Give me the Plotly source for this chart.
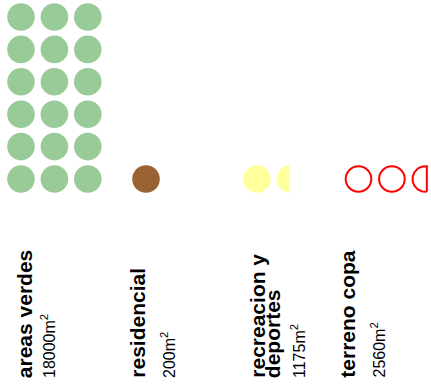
import numpy as np
import plotly.graph_objects as go

# ---- data ----
categories = ["areas verdes", "residencial", "recreacion y<br>deportes", "terreno copa"]
area_labels = ["18000m<sup>2</sup>", "200m<sup>2</sup>", "1175m<sup>2</sup>", "2560m<sup>2</sup>"]
icon_counts = [18, 1, 1.46, 2.56]          # circles drawn per category (full + partial)
fill_colors = ["#98CB98", "#9A6232", "#FFFF9C", "rgba(0,0,0,0)"]
line_colors = [None, None, None, "#FF0000"]

# ---- layout constants (pixels) ----
W, H = 431, 384
group_x0 = [21, 146, 257, 358.5]
label_x = [((24.2,), 48), ((136.7,), 168), ((256.7, 272.7), 298), ((346.7,), 378)]
col_step, row_step = 33.4, 32.4
base_y = 179
diam = 27.6
per_row = 3

fig = go.Figure()

def partial_circle(cx, cy, r, frac, n=80):
    cut = cx - r + 2 * r * frac
    t0 = np.arccos(np.clip((cut - cx) / r, -1, 1))
    t = np.linspace(t0, 2 * np.pi - t0, n)
    xs = cx + r * np.cos(t)
    ys = cy + r * np.sin(t)
    xs = np.append(xs, xs[0])
    ys = np.append(ys, ys[0])
    return xs, ys

for gi, cnt in enumerate(icon_counts):
    n_full = int(np.floor(cnt))
    frac = cnt - n_full
    xs, ys = [], []
    for k in range(n_full):
        xs.append(group_x0[gi] + (k % per_row) * col_step)
        ys.append(base_y - (k // per_row) * row_step)
    outline = line_colors[gi] is not None
    if outline:
        marker = dict(size=diam - 2, symbol="circle-open",
                      color=line_colors[gi], line=dict(width=2, color=line_colors[gi]))
    else:
        marker = dict(size=diam, color=fill_colors[gi], line=dict(width=0))
    fig.add_trace(go.Scatter(x=xs, y=ys, mode="markers", marker=marker,
                             hoverinfo="skip", showlegend=False))
    if frac > 0.01:
        k = n_full
        cx = group_x0[gi] + (k % per_row) * col_step
        cy = base_y - (k // per_row) * row_step
        if outline:
            px, py = partial_circle(cx, cy, (diam - 2) / 2, frac)
            fig.add_trace(go.Scatter(x=px, y=py, mode="lines",
                                     line=dict(color=line_colors[gi], width=2),
                                     hoverinfo="skip", showlegend=False))
        else:
            px, py = partial_circle(cx, cy, diam / 2, frac)
            fig.add_trace(go.Scatter(x=px, y=py, mode="lines", fill="toself",
                                     fillcolor=fill_colors[gi], line=dict(width=0),
                                     hoverinfo="skip", showlegend=False))

annotations = []
for gi, name in enumerate(categories):
    name_xs, val_x = label_x[gi]
    for li, line in enumerate(name.split("<br>")):
        annotations.append(dict(x=name_xs[li], y=379, xref="x", yref="y", text="<b>%s</b>" % line,
                                textangle=-90, showarrow=False, xanchor="center", yanchor="bottom",
                                borderpad=0,
                                font=dict(family="Liberation Sans, Arial", size=21, color="#000000")))
    annotations.append(dict(x=val_x, y=379, xref="x", yref="y", text=area_labels[gi],
                            textangle=-90, showarrow=False, xanchor="center", yanchor="bottom",
                            borderpad=0,
                            font=dict(family="Liberation Sans, Arial", size=16, color="#000000")))

fig.update_layout(
    width=W, height=H, margin=dict(l=0, r=0, t=0, b=0),
    paper_bgcolor="white", plot_bgcolor="white",
    xaxis=dict(range=[0, W], visible=False, fixedrange=True),
    yaxis=dict(range=[H, 0], visible=False, fixedrange=True),
    annotations=annotations,
)

fig.write_html("out.html", config={"displayModeBar": False},
               post_script="document.body.style.margin='0';")
